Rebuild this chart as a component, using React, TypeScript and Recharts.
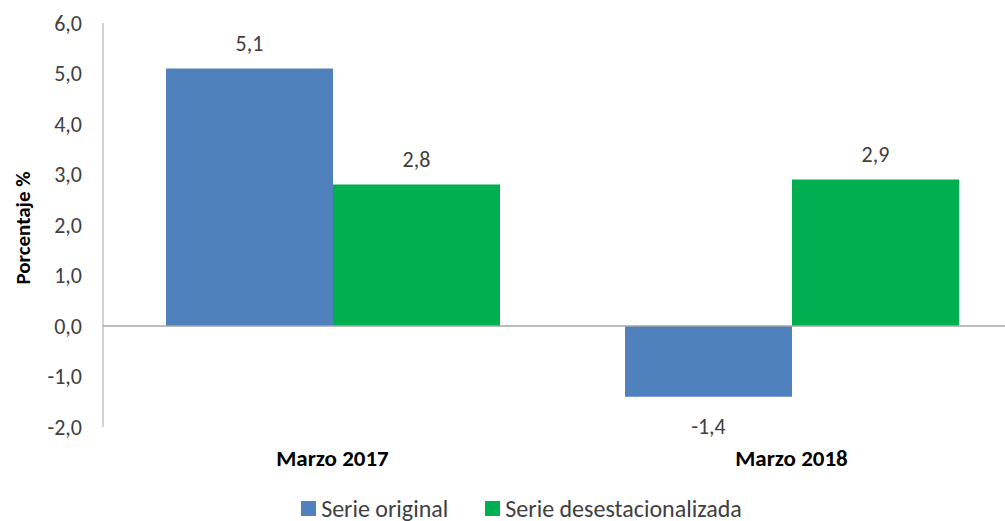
import React from "react";
import { Bar, BarChart, LabelList, Legend, ReferenceLine, XAxis, YAxis } from "recharts";

const categories = ["Marzo 2017", "Marzo 2018"];
const serieOriginal = [5.1, -1.4];
const serieDesestacionalizada = [2.8, 2.9];
const yTicks = [-2, -1, 0, 1, 2, 3, 4, 5, 6];

const COLORS = {
  original: "#4F81BD",
  desest: "#00B050",
  text: "#404040",
  axis: "#A6A6A6",
};

const FONT = "Carlito, Lato, sans-serif";

const data = categories.map((c, i) => ({
  name: c,
  original: serieOriginal[i],
  desest: serieDesestacionalizada[i],
}));

const fmt = (v: number) => v.toFixed(1).replace(".", ",");

function ValueLabel(props: any) {
  const { x, y, width, height, value } = props;
  const top = Math.min(y, y + height);
  const bottom = Math.max(y, y + height);
  const cx = x + width / 2;
  const ty = value >= 0 ? top - 25 : bottom + 30;
  return (
    <text x={cx} y={ty} textAnchor="middle" dominantBaseline="central" fill={COLORS.text} fontSize={22} fontFamily={FONT}>
      {fmt(value)}
    </text>
  );
}

function LegendContent() {
  const items = [
    { label: "Serie original", color: COLORS.original },
    { label: "Serie desestacionalizada", color: COLORS.desest },
  ];
  return (
    <div
      style={{
        display: "flex",
        justifyContent: "center",
        alignItems: "center",
        height: 26,
        gap: 37,
        fontFamily: FONT,
        fontSize: 24,
        color: COLORS.text,
      }}
    >
      {items.map((it) => (
        <div key={it.label} style={{ display: "flex", alignItems: "center", gap: 5 }}>
          <span style={{ width: 15, height: 15, background: it.color, display: "inline-block" }} />
          <span>{it.label}</span>
        </div>
      ))}
    </div>
  );
}

export default function App() {
  return (
    <div style={{ position: "fixed", left: 0, top: 0, width: 1005, height: 521, overflow: "hidden", background: "#fff" }}>
      <BarChart width={1021} height={521} data={data} margin={{ top: 23, right: 0, left: 0, bottom: 0 }} barGap={0} barSize={167}>
        <YAxis
          domain={[-2, 6]}
          ticks={yTicks}
          width={103}
          tickFormatter={fmt}
          tickLine={false}
          tickSize={0}
          tickMargin={21}
          stroke={COLORS.axis}
          tick={{ fill: COLORS.text, fontSize: 22, fontFamily: FONT }}
          label={{
            content: () => (
              <text x={23} y={228} transform="rotate(-90 23 228)" textAnchor="middle" dominantBaseline="central" fontWeight="bold" fontSize={21} fontFamily={FONT} fill="#000">
                Porcentaje %
              </text>
            ),
          }}
        />
        <XAxis
          dataKey="name"
          axisLine={false}
          tickLine={false}
          tickSize={0}
          tickMargin={23}
          height={68}
          tick={{ fill: "#000", fontSize: 23, fontWeight: "bold", fontFamily: FONT }}
        />
        <ReferenceLine y={0} stroke={COLORS.axis} strokeWidth={1.5} />
        <Legend verticalAlign="bottom" wrapperStyle={{ left: 11, width: 1021, bottom: 0 }} content={() => <LegendContent />} />
        <Bar dataKey="original" name="Serie original" fill={COLORS.original} isAnimationActive={false}>
          <LabelList dataKey="original" content={<ValueLabel />} />
        </Bar>
        <Bar dataKey="desest" name="Serie desestacionalizada" fill={COLORS.desest} isAnimationActive={false}>
          <LabelList dataKey="desest" content={<ValueLabel />} />
        </Bar>
      </BarChart>
    </div>
  );
}
